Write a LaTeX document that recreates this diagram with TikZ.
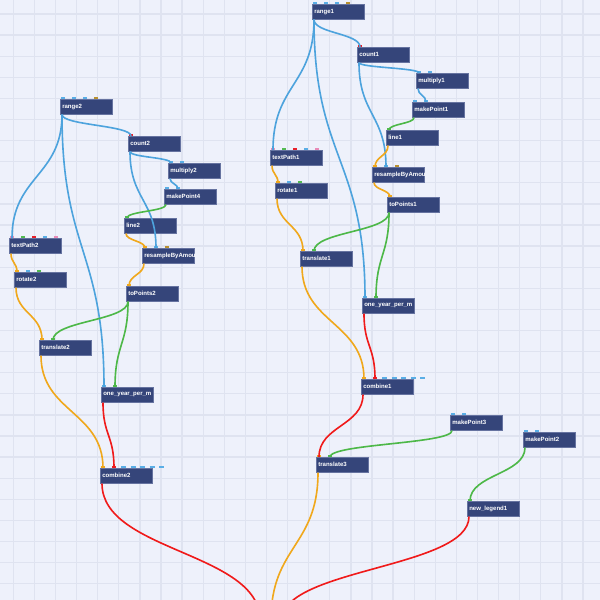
\documentclass[tikz,border=0pt]{standalone}
\usepackage{fontspec}
\setsansfont{Liberation Sans}
\usetikzlibrary{calc}

\definecolor{bg}{HTML}{EEF1FB}
\definecolor{gridc}{HTML}{DFE3F0}
\definecolor{boxfill}{HTML}{35457A}
\definecolor{boxedge}{HTML}{6673A0}
\definecolor{wblue}{HTML}{4DA3DD}
\definecolor{wgreen}{HTML}{4DB848}
\definecolor{worange}{HTML}{F0A81C}
\definecolor{wred}{HTML}{F01A1A}
\definecolor{pblue}{HTML}{5AAEE6}
\definecolor{pgreen}{HTML}{52BA52}
\definecolor{pred}{HTML}{E8202A}
\definecolor{porange}{HTML}{F0A81C}
\definecolor{pgold}{HTML}{B89030}
\definecolor{ppink}{HTML}{E98AB8}

\tikzset{
  gridline/.style={draw=gridc, line width=0.9pt},
  nodebox/.style={draw=boxedge, fill=boxfill, line width=0.4pt, anchor=north west,
    inner sep=0pt, inner xsep=0.05cm, text width=1.2cm, minimum height=0.375cm,
    align=left, text=white, font=\sffamily\bfseries\fontsize{4.3}{5}\selectfont},
  wire/.style={line width=1.15pt},
}

% wire from the output of #2 to port #4 of #3
\newcommand\wire[4]{%
  \path ($(#2.south west)+(2,0)$) coordinate (ws)
        ($(#3)+(3+11*#4,0)$) coordinate (we)
        ($(ws)!0.5!(we)$) coordinate (wm);
  \draw[wire,#1] (ws) .. controls (ws |- wm) and (we |- wm) .. (we);}

\begin{document}
\begin{tikzpicture}[x=0.025cm, y=-0.025cm]

\useasboundingbox (0,0) rectangle (600,600);
\clip (0,0) rectangle (600,600);
\fill[bg] (0,0) rectangle (600,600);
\foreach \k in {0,...,28} {
  \draw[gridline] (13.3+21.1*\k,0) -- (13.3+21.1*\k,600);
  \draw[gridline] (0,14+21.1*\k) -- (600,14+21.1*\k);
}

% left group
\node[nodebox] (range2) at (60,99) {range2};
\node[nodebox] (count2) at (128,136) {count2};
\node[nodebox] (multiply2) at (168,163) {multiply2};
\node[nodebox] (makePoint4) at (164,189) {makePoint4};
\node[nodebox] (line2) at (124,218) {line2};
\node[nodebox] (textPath2) at (9,238) {textPath2};
\node[nodebox] (resample2) at (142,248) {resampleByAmou};
\node[nodebox] (rotate2) at (14,272) {rotate2};
\node[nodebox] (toPoints2) at (126,286) {toPoints2};
\node[nodebox] (translate2) at (39,340) {translate2};
\node[nodebox] (oneyear2) at (101,387) {one\_year\_per\_m};
\node[nodebox] (combine2) at (100,468) {combine2};

% right group
\node[nodebox] (range1) at (312,4) {range1};
\node[nodebox] (count1) at (357,47) {count1};
\node[nodebox] (multiply1) at (416,73) {multiply1};
\node[nodebox] (makePoint1) at (412,102) {makePoint1};
\node[nodebox] (line1) at (386,130) {line1};
\node[nodebox] (textPath1) at (270,150) {textPath1};
\node[nodebox] (resample1) at (372,167) {resampleByAmou};
\node[nodebox] (rotate1) at (275,183) {rotate1};
\node[nodebox] (toPoints1) at (387,197) {toPoints1};
\node[nodebox] (translate1) at (300,251) {translate1};
\node[nodebox] (oneyear1) at (362,298) {one\_year\_per\_m};
\node[nodebox] (combine1) at (361,379) {combine1};
\node[nodebox] (makePoint3) at (450,415) {makePoint3};
\node[nodebox] (makePoint2) at (523,432) {makePoint2};
\node[nodebox] (translate3) at (316,457) {translate3};
\node[nodebox] (newlegend1) at (467,501) {new\_legend1};

\coordinate (viewer) at (257,620);

% ports
\foreach \n/\cl in {range2/{pblue,pblue,pblue,pgold}, range1/{pblue,pblue,pblue,pgold},
    count2/{pred}, count1/{pred}, multiply2/{pblue,pblue}, multiply1/{pblue,pblue},
    makePoint4/{pblue,pblue}, makePoint1/{pblue,pblue}, makePoint3/{pblue,pblue},
    makePoint2/{pblue,pblue}, line2/{pgreen}, line1/{pgreen},
    textPath2/{ppink,pgreen,pred,pblue,ppink}, textPath1/{ppink,pgreen,pred,pblue,ppink},
    rotate2/{porange,pblue,pgreen}, rotate1/{porange,pblue,pgreen},
    resample2/{porange,pblue,pgold}, resample1/{porange,pblue,pgold},
    toPoints2/{porange}, toPoints1/{porange}, translate2/{porange,pgreen},
    translate1/{porange,pgreen}, translate3/{porange,pgreen},
    oneyear2/{pblue,pgreen}, oneyear1/{pblue,pgreen},
    combine2/{porange,pred}, combine1/{porange,pred}, newlegend1/{pgreen}}
  \foreach \col [count=\i from 0] in \cl
    \fill[\col] ($(\n.north west)+(1+11*\i,-2)$) rectangle +(4,2);
\foreach \n in {combine2,combine1}
  \draw[pblue, line width=1.4pt, dash pattern=on 3.6pt off 3.2pt]
    ($(\n.north west)+(21,-1)$) -- ($(\n.north east)+(16,-1)$);

% connections
\foreach \col/\src/\dst/\port in {
    wblue/range2/count2/0, wblue/range2/textPath2/0, wblue/range2/oneyear2/0,
    wblue/count2/multiply2/0, wblue/count2/resample2/1, wblue/multiply2/makePoint4/1,
    wgreen/makePoint4/line2/0, worange/line2/resample2/0, worange/resample2/toPoints2/0,
    wgreen/toPoints2/translate2/1, wgreen/toPoints2/oneyear2/1,
    worange/textPath2/rotate2/0, worange/rotate2/translate2/0,
    worange/translate2/combine2/0, wred/oneyear2/combine2/1,
    wblue/range1/count1/0, wblue/range1/textPath1/0, wblue/range1/oneyear1/0,
    wblue/count1/multiply1/0, wblue/count1/resample1/1, wblue/multiply1/makePoint1/1,
    wgreen/makePoint1/line1/0, worange/line1/resample1/0, worange/resample1/toPoints1/0,
    wgreen/toPoints1/translate1/1, wgreen/toPoints1/oneyear1/1,
    worange/textPath1/rotate1/0, worange/rotate1/translate1/0,
    worange/translate1/combine1/0, wred/oneyear1/combine1/1,
    wred/combine1/translate3/0, wgreen/makePoint3/translate3/1,
    wgreen/makePoint2/newlegend1/0}
  \wire{\col}{\src}{\dst.north west}{\port};
\wire{wred}{combine2}{viewer}{0}
\wire{worange}{translate3}{viewer}{1}
\wire{wred}{newlegend1}{viewer}{2}

\end{tikzpicture}
\end{document}
